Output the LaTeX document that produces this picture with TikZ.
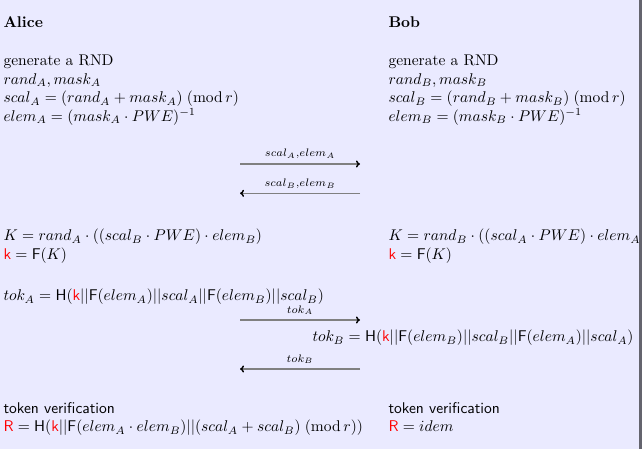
\documentclass[tikz,border=0pt]{standalone}
\usepackage{amsmath}
\usetikzlibrary{arrows.meta}
\definecolor{bgc}{RGB}{234,234,255}
\definecolor{edgec}{RGB}{100,100,110}
\newcommand{\kk}{\textcolor{red}{\mathsf{k}}}
\newcommand{\RR}{\textcolor{red}{\mathsf{R}}}
\newcommand{\mymod}[1]{\;(\mathrm{mod}\,#1)}
\begin{document}
\begin{tikzpicture}[x=0.644pt,y=-0.644pt,
  txt/.style={anchor=base west,inner sep=0pt,outer sep=0pt},
  lbl/.style={anchor=base,inner sep=0pt,outer sep=0pt},
  msg/.style={draw=black!50,line width=0.9pt,-{To[length=2.6pt,width=4.6pt,black]}}]
\useasboundingbox (0,0) rectangle (642,449);
\clip (0,0) rectangle (642,449);
\fill[bgc] (0,0) rectangle (642,449);
% Alice column
\node[txt] (alice) at (3.5,27.3) {\textbf{Alice}};
\node[txt] (a1) at (3.5,66) {generate a RND};
\node[txt] (a2) at (3.5,84.5) {$rand_A, mask_A$};
\node[txt] (a3) at (3.5,103) {$scal_A = (rand_A + mask_A) \mymod{r}$};
\node[txt] (a4) at (3.5,121.5) {$elem_A = (mask_A \cdot PWE)^{-1}$};
\node[txt] (a5) at (3.5,241) {$K = rand_A \cdot ((scal_B \cdot PWE)\cdot elem_B)$};
\node[txt] (a6) at (3.5,260) {$\kk = \mathsf{F}(K)$};
\node[txt] (a7) at (3.5,300.7) {$tok_A = \mathsf{H}(\kk||\mathsf{F}(elem_A)||scal_A||\mathsf{F}(elem_B)||scal_B)$};
\node[txt] (a8) at (3.5,413.3) {\textsf{token verification}};
\node[txt] (a9) at (3.5,431.7) {$\RR = \mathsf{H}(\kk||\mathsf{F}(elem_A\cdot elem_B)||(scal_A+scal_B) \mymod{r})$};
% Bob column
\node[txt] (bob) at (388.5,27.3) {\textbf{Bob}};
\node[txt] (b1) at (388.5,66) {generate a RND};
\node[txt] (b2) at (388.5,84.5) {$rand_B, mask_B$};
\node[txt] (b3) at (388.5,103) {$scal_B = (rand_B + mask_B) \mymod{r}$};
\node[txt] (b4) at (388.5,121.5) {$elem_B = (mask_B \cdot PWE)^{-1}$};
\node[txt] (b5) at (388.5,241) {$K = rand_B \cdot ((scal_A \cdot PWE)\cdot elem_A)$};
\node[txt] (b6) at (388.5,260) {$\kk = \mathsf{F}(K)$};
\node[txt] (b7) at (312.5,341.7) {$tok_B = \mathsf{H}(\kk||\mathsf{F}(elem_B)||scal_B||\mathsf{F}(elem_A)||scal_A)$};
\node[txt] (b8) at (388.5,413.3) {\textsf{token verification}};
\node[txt] (b9) at (388.5,431.7) {$\RR = idem$};
% messages
\coordinate (m1s) at (240,164); \coordinate (m1e) at (360,164);
\coordinate (m2s) at (360,193.3); \coordinate (m2e) at (240,193.3);
\coordinate (m3s) at (240,320); \coordinate (m3e) at (360,320);
\coordinate (m4s) at (360,369); \coordinate (m4e) at (240,369);
\draw[msg] (m1s) -- (m1e);
\draw[msg] (m2s) -- (m2e);
\draw[msg] (m3s) -- (m3e);
\draw[msg] (m4s) -- (m4e);
\node[lbl] (l1) at (300,157) {$\scriptstyle scal_A,elem_A$};
\node[lbl] (l2) at (300,186.7) {$\scriptstyle scal_B,elem_B$};
\node[lbl] (l3) at (300,313.3) {$\scriptstyle tok_A$};
\node[lbl] (l4) at (300,362.3) {$\scriptstyle tok_B$};
% right edge
\fill[edgec] (639,0) rectangle (642,449);
\end{tikzpicture}
\end{document}
